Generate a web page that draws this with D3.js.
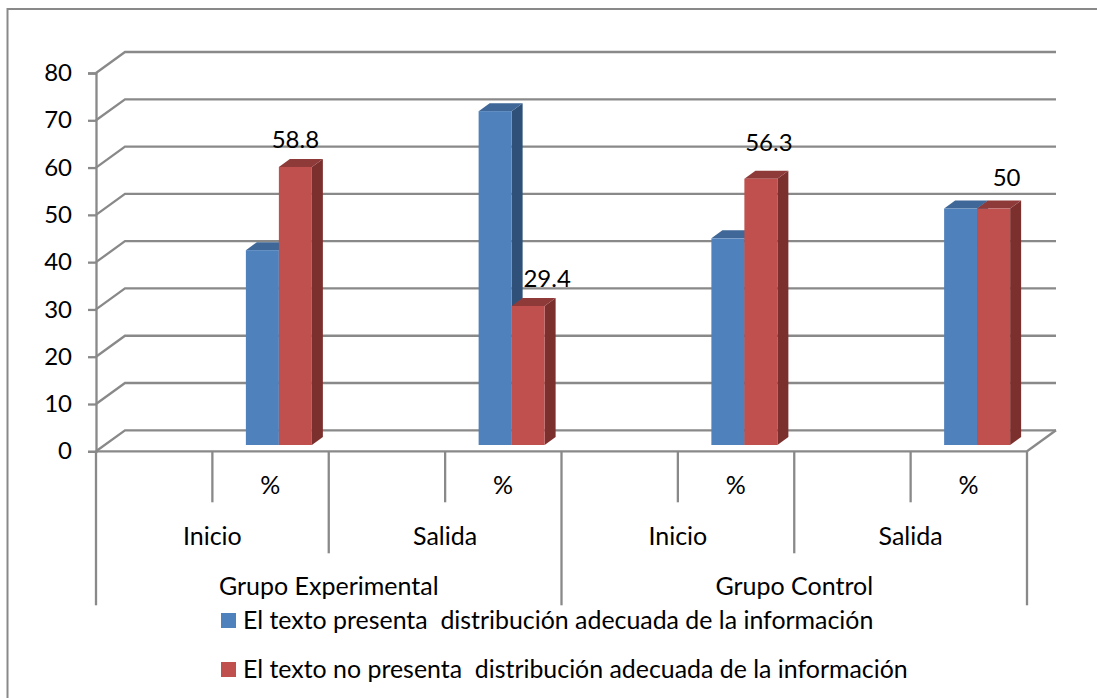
<!DOCTYPE html>
<html>
<head>
<meta charset="utf-8">
<script src="https://cdn.jsdelivr.net/npm/d3@7"></script>
<style>
  html, body { margin: 0; padding: 0; background: #fff; }
  svg { display: block; }
  text { font-family: Lato, "Open Sans", sans-serif; fill: #000; white-space: pre; }
</style>
</head>
<body>
<svg id="chart" width="1097" height="698"></svg>
<script>
// Chart values
const groups = ["Grupo Experimental", "Grupo Control"];
const stages = ["Inicio", "Salida", "Inicio", "Salida"];
const units = ["%", "%", "%", "%"];
const seriesNames = [
  "El texto presenta  distribución adecuada de la información",
  "El texto no presenta  distribución adecuada de la información"
];
const presentaValues = [41.2, 70.6, 43.7, 50];
const noPresentaValues = [58.8, 29.4, 56.3, 50];
const yTicks = [0, 10, 20, 30, 40, 50, 60, 70, 80];

// Hand placement of the data labels, relative to the top of each red bar
const labelShiftX = [0, 19, 8, 13];
const labelShiftY = [-19, -19, -28, -23];

// Layout
const W = 1097, H = 698;
const plot = { left: 96, right: 1027, top: 73, bottom: 451.3 };
const depth = { x: 29, y: -21 };      // wall offset of the 3D box
const barDepth = { x: 11, y: -8 };    // extrusion of each bar
const barLift = -6.3;                 // bars stand slightly behind the front edge
const barWidth = 33;
const barOffset = 66.5;               // shift from category centre to the blue/red seam
const unitOffset = 58;                // the % sits centred between inner and outer separators
const gridColor = "#898989";
const gridWidth = 2.3;
const labelSize = 25;
const colors = [
  { front: "#4f81bd", top: "#3f6797", side: "#2f5179" },
  { front: "#c0504d", top: "#8e3a38", side: "#7b302e" }
];

const svg = d3.select("#chart");
const y = d3.scaleLinear().domain([0, 80]).range([plot.bottom, plot.top]);
const x = d3.scaleBand().domain(d3.range(4)).range([plot.left, plot.right]);
const mid = i => x(i) + x.bandwidth() / 2;

// Outer chart frame
svg.append("path")
  .attr("d", `M7.5,${H} V9 H${W}`)
  .attr("fill", "none").attr("stroke", gridColor).attr("stroke-width", 2);

// Back wall gridlines with their diagonal runs to the axis
const grid = svg.append("g").attr("fill", "none").attr("stroke", gridColor).attr("stroke-width", gridWidth);
grid.selectAll("path").data(yTicks).join("path")
  .attr("d", d => `M${plot.left},${y(d)} L${plot.left + depth.x},${y(d) + depth.y} H${plot.right + depth.x}`);
// Right edge of the floor
grid.append("path")
  .attr("d", `M${plot.right},${y(0)} L${plot.right + depth.x},${y(0) + depth.y}`);

// Value axis
const yAxis = d3.axisLeft(y).tickValues(yTicks).tickSize(8).tickPadding(16);
const yG = svg.append("g").attr("transform", `translate(${plot.left},0)`).call(yAxis);
yG.selectAll("path, line").attr("stroke", gridColor).attr("stroke-width", gridWidth);
yG.selectAll("text").attr("font-size", 24).style("font-family", "Lato");

// Multi-level category axis: baseline and three tiers of separators
const axisLines = svg.append("g").attr("stroke", gridColor).attr("stroke-width", gridWidth);
const tierDepth = [51, 102, 154];
axisLines.append("line")
  .attr("x1", plot.left).attr("x2", plot.right).attr("y1", y(0)).attr("y2", y(0));
const separator = (px, tier) => axisLines.append("line")
  .attr("x1", px).attr("x2", px).attr("y1", y(0)).attr("y2", y(0) + tierDepth[tier]);
x.domain().forEach(i => {
  separator(mid(i), 0);
  separator(x(i), i % 2 === 0 ? 2 : 1);
});
separator(plot.right, 2);

const textAt = (sel, cx, cy, s, size) => sel.append("text")
  .attr("x", cx).attr("y", cy).attr("text-anchor", "middle").attr("font-size", size).text(s);

const labels = svg.append("g");
units.forEach((u, i) => textAt(labels, mid(i) + unitOffset, 494, u, labelSize));
stages.forEach((s, i) => textAt(labels, mid(i), 545, s, labelSize));
groups.forEach((g, i) => textAt(labels, plot.left + (i + 0.5) * 2 * x.bandwidth(), 595, g, labelSize));

// Bars, blue first so the red one overlaps its side
const series = [presentaValues, noPresentaValues];
const bars = svg.append("g");
x.domain().forEach(i => {
  const seam = mid(i) + barOffset;
  series.forEach((vals, s) => {
    const x0 = seam + (s - 1) * barWidth;
    const x1 = x0 + barWidth;
    const yt = y(vals[i]) + barLift;
    const yb = y(0) + barLift;
    const c = colors[s];
    const g = bars.append("g");
    g.append("path").attr("fill", c.side)
      .attr("d", `M${x1},${yt} l${barDepth.x},${barDepth.y} V${yb + barDepth.y} L${x1},${yb} Z`);
    g.append("path").attr("fill", c.top)
      .attr("d", `M${x0},${yt} l${barDepth.x},${barDepth.y} H${x1 + barDepth.x} L${x1},${yt} Z`);
    g.append("rect").attr("fill", c.front)
      .attr("x", x0).attr("y", yt).attr("width", barWidth).attr("height", yb - yt);
  });
});

// Data labels on the red series
noPresentaValues.forEach((v, i) => {
  const seam = mid(i) + barOffset;
  textAt(labels, seam + barWidth / 2 + labelShiftX[i], y(v) + barLift + labelShiftY[i], String(v), 24);
});

// Legend
const legendY = [613, 662];
const legend = svg.append("g");
seriesNames.forEach((name, i) => {
  legend.append("rect").attr("x", 221).attr("y", legendY[i]).attr("width", 15).attr("height", 15)
    .attr("fill", colors[i].front);
  legend.append("text").attr("x", 243).attr("y", legendY[i] + 16).attr("font-size", 24.9).text(name);
});
</script>
</body>
</html>
